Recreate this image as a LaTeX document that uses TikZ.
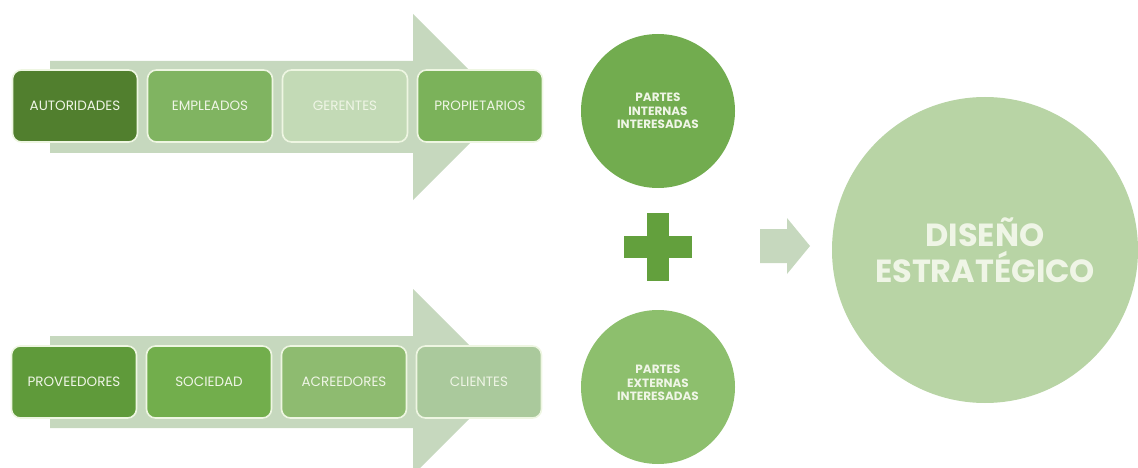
\documentclass[tikz,border=0pt]{standalone}
\usepackage{fontspec}
\setmainfont{Poppins}
\usetikzlibrary{positioning}
\usetikzlibrary{calc}

\definecolor{bandgrey}{HTML}{C6D8BE}
\definecolor{boxedge}{HTML}{EEF6E2}
\definecolor{labeltext}{HTML}{EFF5E6}
\definecolor{autgreen}{HTML}{517F2E}
\definecolor{empgreen}{HTML}{80B461}
\definecolor{gergreen}{HTML}{C3DAB6}
\definecolor{progreen}{HTML}{7BB25A}
\definecolor{provgreen}{HTML}{5F9A3A}
\definecolor{socgreen}{HTML}{72AE4C}
\definecolor{acrgreen}{HTML}{8EBB70}
\definecolor{cligreen}{HTML}{AAC99C}
\definecolor{interngreen}{HTML}{72AC4F}
\definecolor{externgreen}{HTML}{8DBF6D}
\definecolor{plusgreen}{HTML}{63A03D}
\definecolor{designgreen}{HTML}{B8D4A5}

\tikzset{
    stagebox/.style={draw=boxedge,line width=1.6pt,rounded corners=9pt,
        minimum width=125pt,minimum height=72pt,inner sep=0pt,
        text=labeltext,font=\fontsize{13.5}{15}\selectfont},
    partcircle/.style={circle,minimum size=154pt,inner sep=0pt,align=center,
        text=labeltext,font=\bfseries\fontsize{12}{13.5}\selectfont},
}

\begin{document}
\begin{tikzpicture}[x=1pt,y=-1pt]
    \useasboundingbox (0,0) rectangle (1138,468);
    % the two wide arrows behind the boxes
    \foreach \yc in {107,382}
        \fill[bandgrey] (50,\yc-46) -- (413,\yc-46) -- (413,\yc-93) -- (506,\yc)
            -- (413,\yc+93) -- (413,\yc+46) -- (50,\yc+46) -- cycle;
    % internal stakeholders
    \foreach \n/\x/\col/\txt in {1/75/autgreen/AUTORIDADES,2/210/empgreen/EMPLEADOS,
            3/345/gergreen/GERENTES,4/480/progreen/PROPIETARIOS}
        \node[stagebox,fill=\col] (int\n) at (\x,106) {\txt};
    % external stakeholders
    \foreach \n/\x/\col/\txt in {1/74/provgreen/PROVEEDORES,2/209/socgreen/SOCIEDAD,
            3/344/acrgreen/ACREEDORES,4/479/cligreen/CLIENTES}
        \node[stagebox,fill=\col] (ext\n) at (\x,382) {\txt};
    % right hand side
    \node[partcircle,fill=interngreen] (intern) at (658,111) {PARTES\\INTERNAS\\INTERESADAS};
    \node[partcircle,fill=externgreen,text depth=8pt] (extern) at (658,387) {PARTES\\EXTERNAS\\INTERESADAS};
    \coordinate (plus) at (658,247);
    \fill[plusgreen] ($(plus)+(-11,-34)$) rectangle ($(plus)+(11,34)$);
    \fill[plusgreen] ($(plus)+(-34,-11)$) rectangle ($(plus)+(34,11)$);
    \fill[bandgrey] (760,229) -- (787,229) -- (787,218) -- (810,246) -- (787,274)
        -- (787,263) -- (760,263) -- cycle;
    \node[circle,fill=designgreen,minimum size=306pt,inner sep=0pt,align=center,
        text=labeltext,font=\fontsize{32}{36}\selectfont\bfseries] (design) at (985,250)
        {DISEÑO\\ESTRATÉGICO};
\end{tikzpicture}
\end{document}
